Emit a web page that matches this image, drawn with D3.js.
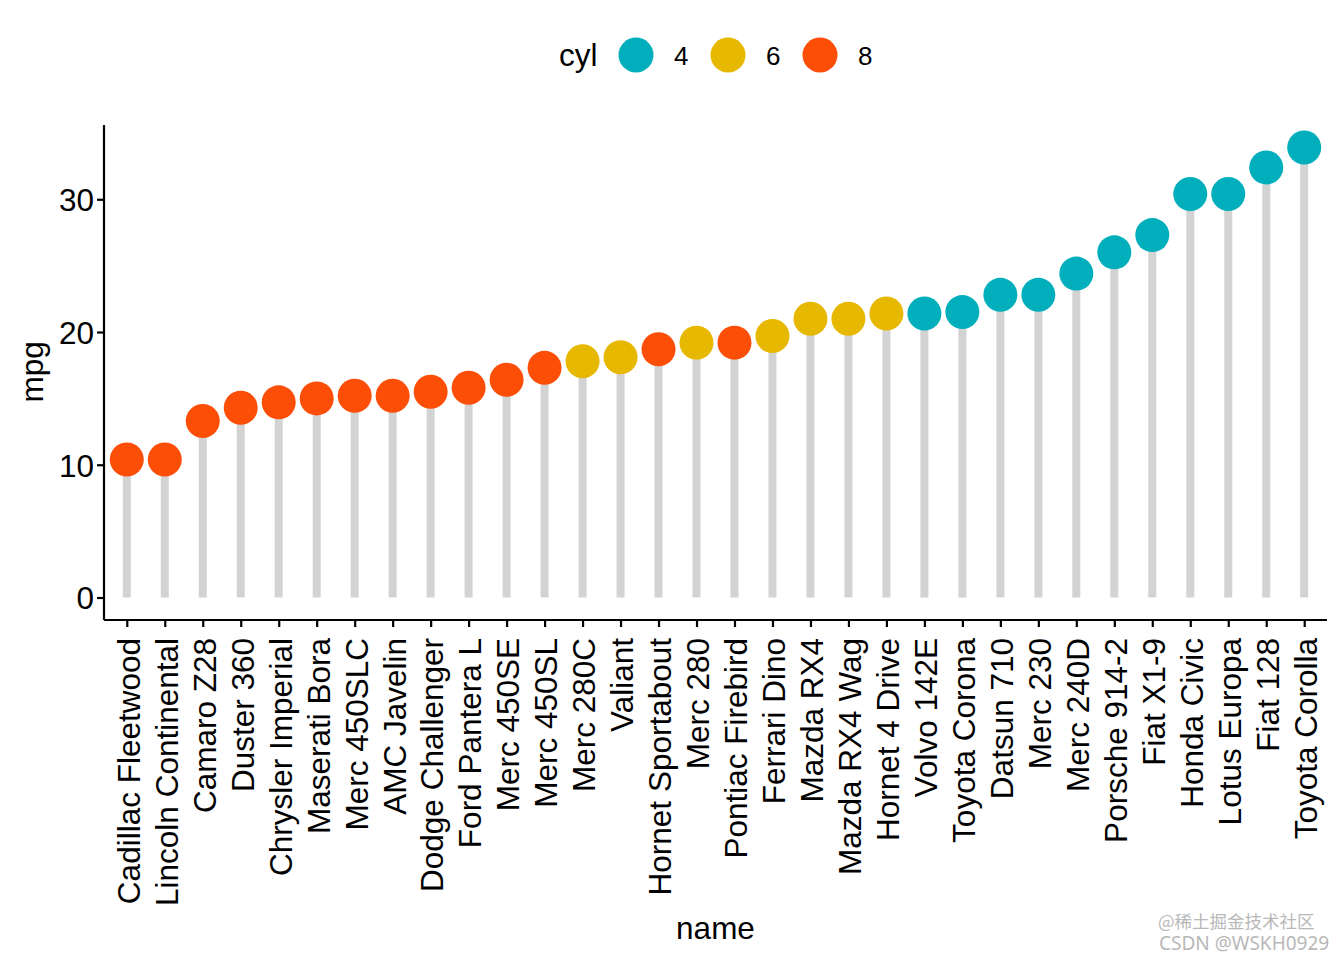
<!DOCTYPE html>
<html>
<head>
<meta charset="utf-8">
<script src="https://cdn.jsdelivr.net/npm/d3@7"></script>
<style>
  body { margin: 0; background: #fff; }
  text { font-family: "Liberation Sans", Arial, sans-serif; }
</style>
</head>
<body>
<script>
// mtcars, sorted by mpg
var names = ["Cadillac Fleetwood", "Lincoln Continental", "Camaro Z28", "Duster 360",
  "Chrysler Imperial", "Maserati Bora", "Merc 450SLC", "AMC Javelin", "Dodge Challenger",
  "Ford Pantera L", "Merc 450SE", "Merc 450SL", "Merc 280C", "Valiant", "Hornet Sportabout",
  "Merc 280", "Pontiac Firebird", "Ferrari Dino", "Mazda RX4", "Mazda RX4 Wag",
  "Hornet 4 Drive", "Volvo 142E", "Toyota Corona", "Datsun 710", "Merc 230", "Merc 240D",
  "Porsche 914-2", "Fiat X1-9", "Honda Civic", "Lotus Europa", "Fiat 128", "Toyota Corolla"];
var mpg = [10.4, 10.4, 13.3, 14.3, 14.7, 15.0, 15.2, 15.2, 15.5, 15.8, 16.4, 17.3, 17.8, 18.1,
  18.7, 19.2, 19.2, 19.7, 21.0, 21.0, 21.4, 21.4, 21.5, 22.8, 22.8, 24.4, 26.0, 27.3, 30.4,
  30.4, 32.4, 33.9];
var cyl = [8, 8, 8, 8, 8, 8, 8, 8, 8, 8, 8, 8, 6, 6, 8, 6, 8, 6, 6, 6, 6, 4, 4, 4, 4, 4, 4, 4,
  4, 4, 4, 4];
var cylLevels = ["4", "6", "8"];
var yTicks = [0, 10, 20, 30];

var W = 1344, H = 960;
var margin = {top: 125, right: 17, bottom: 340, left: 104};
var width = W - margin.left - margin.right,
    height = H - margin.top - margin.bottom;

var svg = d3.select("body").append("svg")
    .attr("width", W)
    .attr("height", H);

var g = svg.append("g")
    .attr("transform", "translate(" + margin.left + "," + margin.top + ")");

// discrete x with ggplot style 0.6 expansion
var x = d3.scalePoint()
    .domain(names)
    .range([0, width])
    .padding(0.6);

var ymax = d3.max(mpg);
var y = d3.scaleLinear()
    .domain([-ymax * 0.05, ymax * 1.05])
    .range([height, 0]);

var color = d3.scaleOrdinal()
    .domain(cylLevels)
    .range(["#00AFBB", "#E7B800", "#FC4E07"]);

var data = names.map(function(n, i) { return {name: n, mpg: mpg[i], cyl: String(cyl[i])}; });

// segments
g.selectAll(".seg")
    .data(data)
    .enter().append("line")
    .attr("class", "seg")
    .attr("x1", function(d) { return x(d.name); })
    .attr("x2", function(d) { return x(d.name); })
    .attr("y1", y(0))
    .attr("y2", function(d) { return y(d.mpg); })
    .attr("stroke", "#d3d3d3")
    .attr("stroke-width", 8);

// dots
g.selectAll(".dot")
    .data(data)
    .enter().append("circle")
    .attr("class", "dot")
    .attr("cx", function(d) { return x(d.name); })
    .attr("cy", function(d) { return y(d.mpg); })
    .attr("r", 17)
    .attr("fill", function(d) { return color(d.cyl); });

// axes
var yAxis = g.append("g")
    .call(d3.axisLeft(y).tickValues(yTicks).tickSize(7).tickPadding(3));
var xAxis = g.append("g")
    .attr("transform", "translate(0," + height + ")")
    .call(d3.axisBottom(x).tickSize(7).tickPadding(4));

[yAxis, xAxis].forEach(function(a) {
  a.select(".domain").attr("stroke", "#000").attr("stroke-width", 2.2);
  a.selectAll(".tick line").attr("stroke", "#000").attr("stroke-width", 2.2);
  a.selectAll(".tick text").attr("fill", "#000").style("font-size", "31.5px")
    .style("font-family", "'Liberation Sans', Arial, sans-serif");
});
// remove outer ticks from path
yAxis.select(".domain").attr("d", "M0," + height + "V0");
xAxis.select(".domain").attr("d", "M0,0H" + width);
yAxis.selectAll(".tick text").attr("dy", "0.36em");

xAxis.selectAll(".tick text")
    .attr("transform", "rotate(-90)")
    .attr("text-anchor", "end")
    .attr("x", -18)
    .attr("y", 1)
    .attr("dy", "0.36em");

// axis titles
svg.append("text")
    .attr("transform", "translate(43," + (margin.top + y(17)) + ") rotate(-90)")
    .attr("text-anchor", "middle")
    .style("font-size", "31.5px")
    .text("mpg");

svg.append("text")
    .attr("x", margin.left + width / 2)
    .attr("y", 939)
    .attr("text-anchor", "middle")
    .style("font-size", "31.5px")
    .text("name");

// legend
var legend = svg.append("g");
legend.append("text")
    .attr("x", 559)
    .attr("y", 66)
    .style("font-size", "31.5px")
    .text("cyl");

var li = legend.selectAll(".li")
    .data(cylLevels)
    .enter().append("g")
    .attr("transform", function(d, i) { return "translate(" + (636 + i * 92) + ",55)"; });
li.append("circle")
    .attr("r", 17.5)
    .attr("fill", function(d) { return color(d); });
li.append("text")
    .attr("x", 38)
    .attr("y", 10)
    .style("font-size", "26px")
    .text(function(d) { return d; });

// watermark
var wm = svg.append("g").attr("fill", "#b8b8b8");
wm.append("text").attr("x", 1158).attr("y", 928)
    .style("font-size", "17.5px")
    .style("font-family", "'Noto Sans CJK SC', sans-serif")
    .text("@稀土掘金技术社区");
wm.append("text").attr("x", 1159).attr("y", 950)
    .style("font-size", "19px")
    .style("font-family", "'Noto Sans', sans-serif")
    .text("CSDN @WSKH0929");
</script>
</body>
</html>
